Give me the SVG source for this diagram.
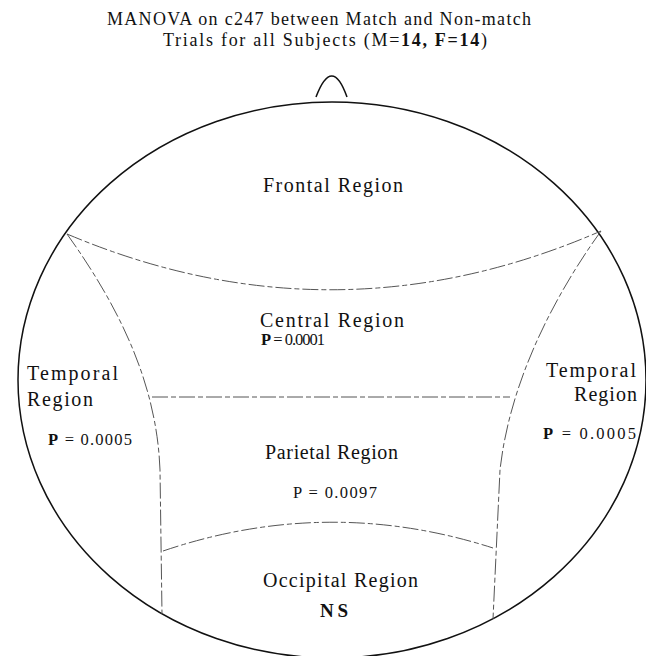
<svg xmlns="http://www.w3.org/2000/svg" width="646" height="656" viewBox="0 0 646 656">
<style>
text{font-family:"Liberation Serif","Times New Roman",serif;fill:#111;text-anchor:start}
.t{font-size:18px}
.r{font-size:20px}
.p{font-size:16.5px}
.head{fill:none;stroke:#111;stroke-width:1.5}
.b{fill:none;stroke:#555;stroke-width:1;stroke-dasharray:16 3 5 3}
</style>
<rect width="646" height="656" fill="#fff"/>
<g id="title">
<text class="t" x="107" y="25" textLength="424" lengthAdjust="spacing">MANOVA on c247 between Match and Non-match</text>
<text class="t" x="163" y="46" textLength="324" lengthAdjust="spacing">Trials for all Subjects (M=<tspan font-weight="bold">14, F=14</tspan>)</text>
</g>
<g id="head">
<ellipse class="head" cx="332" cy="380" rx="314" ry="278"/>
<path class="head" d="M316,97 Q332,55 347,97" stroke-width="1.2"/>
</g>
<g id="connectors">
<path class="b" d="M67,234 Q334,347 601,231"/>
<path class="b" d="M67,234 C125,315 157,390 160,470 L162,614"/>
<path class="b" d="M601,231 C555,295 510,380 500,470 L493,619"/>
<path class="b" d="M152,397 L510,397"/>
<path class="b" d="M163,551 Q328,495 493,548"/>
</g>
<g id="frontal">
<text class="r" x="263" y="192" textLength="140" lengthAdjust="spacing">Frontal Region</text>
</g>
<g id="central">
<text class="r" x="260" y="327" textLength="144" lengthAdjust="spacing">Central Region</text>
<text class="p" x="261" y="345" font-size="15" textLength="64" lengthAdjust="spacing"><tspan font-weight="bold">P</tspan> = 0.0001</text>
</g>
<g id="temporal-left">
<text class="r" x="27" y="380" textLength="91" lengthAdjust="spacing">Temporal</text>
<text class="r" x="27" y="406" textLength="66" lengthAdjust="spacing">Region</text>
<text class="p" x="48" y="445" textLength="84" lengthAdjust="spacing"><tspan font-weight="bold">P</tspan> = 0.0005</text>
</g>
<g id="temporal-right">
<text class="r" x="546" y="377" textLength="90" lengthAdjust="spacing">Temporal</text>
<text class="r" x="574" y="401" textLength="63" lengthAdjust="spacing">Region</text>
<text class="p" x="543" y="439" textLength="93" lengthAdjust="spacing"><tspan font-weight="bold">P</tspan> = 0.0005</text>
</g>
<g id="parietal">
<text class="r" x="265" y="459" textLength="133" lengthAdjust="spacing">Parietal Region</text>
<text class="p" x="293" y="498" textLength="84" lengthAdjust="spacing">P = 0.0097</text>
</g>
<g id="occipital">
<text class="r" x="263" y="587" textLength="155" lengthAdjust="spacing">Occipital Region</text>
<text x="320" y="617" font-size="19" font-weight="bold" textLength="28" lengthAdjust="spacing">NS</text>
</g>
</svg>
